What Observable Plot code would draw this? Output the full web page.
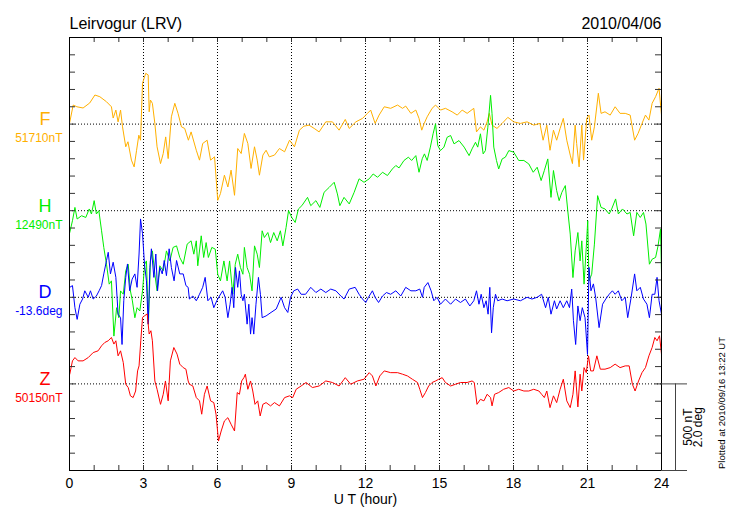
<!DOCTYPE html>
<html><head><meta charset="utf-8">
<script src="https://cdn.jsdelivr.net/npm/d3@7"></script>
<script src="https://cdn.jsdelivr.net/npm/@observablehq/plot@0.6"></script>
<style>html,body{margin:0;padding:0;background:#fff;}</style>
</head><body><div id="chart"></div>
<script>
// ---- chart values ----
const title = "Leirvogur (LRV)";
const dateText = "2010/04/06";
const plottedText = "Plotted at 2010/09/16 13:22 UT";
const components = ["F", "H", "D", "Z"];
const baseValues = [51710, 12490, -13.6, 50150];
const baseLabels = ["51710nT", "12490nT", "-13.6deg", "50150nT"];
const colors = ["#ffb000", "#00ee00", "#0000ff", "#ff0000"];
const xTickLabels = [0, 3, 6, 9, 12, 15, 18, 21, 24];
const scaleNT = 500;     // scale bar: 500 nT
const scaleDeg = 2.0;    // scale bar: 2.0 deg

// F (nT)
const fTime = [0,0.15,0.3,0.55,0.82,1.03,1.23,1.5,1.7,1.77,
1.88,1.97,2.07,2.15,2.28,2.37,2.51,2.62,2.72,2.81,
2.88,2.96,3.09,3.19,3.23,3.28,3.36,3.46,3.55,3.69,
3.8,3.9,4.0,4.13,4.27,4.4,4.54,4.67,4.82,4.93,
5.14,5.27,5.4,5.58,5.72,5.88,6.01,6.12,6.28,6.42,
6.55,6.69,6.82,6.96,7.09,7.23,7.36,7.5,7.61,7.7,
7.84,7.97,8.1,8.31,8.51,8.72,8.92,9.12,9.32,9.5,
9.71,9.92,10.12,10.39,10.66,10.93,11.18,11.34,11.61,11.88,
12.08,12.21,12.39,12.55,12.76,13.02,13.3,13.5,13.63,13.84,
14.04,14.17,14.28,14.38,14.5,14.7,14.84,15.04,15.24,15.51,
15.72,15.92,16.12,16.39,16.5,16.66,16.8,16.93,17.02,17.13,
17.33,17.54,17.77,18.01,18.28,18.55,18.82,19.07,19.2,19.35,
19.48,19.62,19.75,19.89,20.02,20.16,20.3,20.39,20.5,20.56,
20.66,20.77,20.84,20.97,21.06,21.17,21.28,21.44,21.55,21.71,
21.92,22.12,22.32,22.53,22.73,22.91,23.05,23.21,23.35,23.49,
23.62,23.76,23.9,24];
const fValue = [51714,51820,51810,51803,51832,51878,51868,51839,51810,51745,
51791,51723,51791,51694,51579,51608,51502,51463,51559,51646,
51617,51946,52003,51994,51781,51849,51830,51714,51579,51482,
51540,51636,51511,51752,51830,51772,51694,51685,51617,51665,
51559,51502,51598,51617,51502,51521,51270,51309,51415,51347,
51444,51299,51569,51540,51656,51598,51454,51579,51502,51415,
51531,51559,51521,51531,51569,51550,51617,51579,51675,51698,
51704,51685,51665,51723,51723,51675,51737,51685,51723,51743,
51772,51791,51714,51762,51810,51801,51820,51801,51814,51772,
51791,51743,51675,51714,51752,51801,51820,51791,51801,51781,
51762,51791,51772,51801,51665,51694,51675,51723,51772,51704,
51685,51714,51749,51723,51714,51723,51704,51714,51617,51704,
51559,51675,51617,51685,51743,51617,51531,51482,51704,51598,
51463,51704,51502,51743,51762,51617,51694,51888,51772,51781,
51762,51810,51772,51772,51762,51617,51656,51714,51762,51733,
51830,51868,51917,51762];

// H (nT)
const hTime = [0.01,0.12,0.22,0.31,0.49,0.66,0.8,0.89,1.0,1.09,
1.19,1.3,1.39,1.5,1.61,1.7,1.8,1.91,2.0,2.07,
2.18,2.28,2.38,2.47,2.55,2.65,2.74,2.85,2.96,3.05,
3.12,3.2,3.28,3.36,3.46,3.55,3.66,3.8,3.93,4.07,
4.2,4.34,4.47,4.61,4.77,4.93,5.04,5.14,5.2,5.34,
5.44,5.54,5.63,5.77,5.91,6.01,6.12,6.26,6.39,6.49,
6.62,6.72,6.82,6.93,7.03,7.09,7.2,7.3,7.4,7.5,
7.61,7.7,7.81,7.9,8.04,8.15,8.28,8.42,8.55,8.65,
8.78,8.88,9.01,9.15,9.28,9.42,9.65,9.78,9.99,10.15,
10.32,10.53,10.73,10.86,10.96,11.13,11.34,11.54,11.74,11.94,
12.15,12.31,12.49,12.69,12.89,13.09,13.23,13.36,13.56,13.74,
13.87,14.04,14.17,14.3,14.39,14.5,14.63,14.74,14.84,14.93,
15.04,15.18,15.31,15.45,15.59,15.79,16.0,16.2,16.32,16.46,
16.55,16.66,16.77,16.86,16.96,17.07,17.13,17.2,17.31,17.4,
17.54,17.67,17.81,18.01,18.21,18.42,18.62,18.8,18.96,19.12,
19.25,19.39,19.52,19.62,19.75,19.85,19.96,20.1,20.2,20.3,
20.41,20.5,20.61,20.7,20.77,20.86,20.95,21.01,21.06,21.17,
21.28,21.41,21.55,21.71,21.88,21.98,22.14,22.25,22.42,22.6,
22.73,22.87,23.0,23.14,23.27,23.37,23.51,23.62,23.76,23.86,
23.96,24.0];
const hValue = [12364,12432,12509,12442,12461,12451,12500,12471,12548,12471,
12490,12374,12278,12181,12066,12085,11766,11930,11872,12027,
12008,12143,12181,12027,11969,11872,11930,11911,12027,12181,
12200,11834,12200,12258,12123,12027,12172,12143,12258,12200,
12278,12287,12220,12181,12297,12316,12239,12316,12172,12345,
12220,12306,12220,12278,12268,12123,12085,12200,12085,12200,
12008,12181,12239,12162,12123,12278,12162,12123,12027,12287,
12239,12162,12374,12335,12364,12306,12364,12316,12374,12287,
12393,12490,12451,12422,12500,12519,12567,12519,12548,12509,
12596,12625,12654,12587,12519,12567,12529,12596,12674,12654,
12674,12702,12683,12712,12693,12731,12751,12737,12780,12799,
12780,12808,12712,12790,12818,12780,12857,12934,12992,12866,
12837,12857,12914,12924,12876,12895,12857,12808,12847,12885,
12857,12934,12818,12837,12972,13156,13050,12857,12780,12731,
12789,12799,12837,12828,12780,12780,12760,12712,12741,12664,
12722,12789,12567,12722,12606,12548,12596,12635,12490,12355,
12104,12258,12364,12200,12316,12066,12278,12432,12085,12123,
12297,12577,12509,12500,12471,12500,12558,12471,12500,12471,
12480,12345,12480,12451,12480,12413,12181,12210,12220,12287,
12384,12133];

// D (deg)
const dTime = [0.01,0.12,0.22,0.31,0.42,0.53,0.62,0.76,0.85,0.96,
1.09,1.2,1.3,1.39,1.5,1.57,1.66,1.77,1.88,1.97,
2.07,2.13,2.2,2.28,2.35,2.44,2.54,2.65,2.74,2.82,
2.88,2.96,3.04,3.12,3.19,3.26,3.32,3.42,3.5,3.57,
3.66,3.76,3.84,3.93,4.04,4.13,4.24,4.34,4.47,4.61,
4.72,4.81,4.86,5.0,5.14,5.27,5.4,5.5,5.61,5.74,
5.85,5.97,6.08,6.21,6.31,6.42,6.51,6.59,6.66,6.73,
6.82,6.89,6.96,7.03,7.09,7.2,7.27,7.34,7.4,7.47,
7.56,7.66,7.74,7.81,7.97,8.17,8.38,8.58,8.72,8.85,
8.96,9.09,9.25,9.39,9.57,9.78,9.99,10.19,10.39,10.59,
10.8,11.0,11.13,11.34,11.58,11.74,11.88,12.01,12.12,12.28,
12.39,12.53,12.69,12.85,13.02,13.23,13.43,13.63,13.84,14.04,
14.2,14.31,14.38,14.53,14.66,14.77,14.9,15.04,15.24,15.45,
15.65,15.85,16.05,16.23,16.39,16.5,16.6,16.69,16.8,16.89,
16.97,17.04,17.11,17.18,17.27,17.36,17.54,17.74,18.01,18.28,
18.55,18.75,18.96,19.14,19.3,19.41,19.52,19.66,19.75,19.89,
20.02,20.16,20.27,20.36,20.43,20.52,20.61,20.7,20.79,20.9,
21.0,21.06,21.14,21.24,21.33,21.47,21.61,21.74,21.88,22.01,
22.12,22.25,22.39,22.53,22.63,22.77,22.91,23.0,23.14,23.27,
23.41,23.51,23.62,23.73,23.82,23.9,24.0];
const dValue = [-13.37,-13.33,-13.84,-14.11,-13.76,-13.64,-13.45,-13.60,-13.45,-13.64,
-13.57,-13.45,-13.33,-13.06,-12.75,-12.56,-13.06,-12.79,-13.14,-13.99,
-14.07,-14.69,-13.68,-13.14,-12.83,-13.45,-13.18,-13.06,-13.37,-12.60,
-11.79,-12.13,-12.83,-13.22,-14.22,-12.91,-12.48,-13.14,-12.60,-13.45,
-12.91,-13.06,-12.75,-13.10,-12.48,-12.91,-13.22,-12.75,-13.06,-13.06,
-13.33,-13.37,-13.64,-13.57,-13.68,-13.53,-13.37,-13.14,-13.68,-13.60,
-13.84,-13.68,-13.57,-13.45,-13.60,-14.07,-13.76,-13.37,-13.84,-12.91,
-13.37,-12.99,-13.53,-13.68,-13.53,-14.22,-13.76,-14.45,-14.07,-14.45,
-13.76,-13.14,-13.53,-14.07,-14.03,-13.95,-13.87,-13.60,-13.84,-13.95,
-13.60,-13.45,-13.41,-13.53,-13.53,-13.37,-13.49,-13.41,-13.49,-13.41,
-13.45,-13.57,-13.64,-13.41,-13.37,-13.53,-13.64,-13.72,-13.60,-13.45,
-13.60,-13.72,-13.57,-13.49,-13.53,-13.45,-13.57,-13.37,-13.45,-13.45,
-13.41,-13.60,-13.37,-13.26,-13.45,-13.68,-13.60,-13.76,-13.64,-13.76,
-13.64,-13.72,-13.64,-13.80,-13.68,-13.45,-13.76,-13.53,-13.84,-13.68,
-13.99,-13.37,-14.42,-13.84,-13.53,-13.68,-13.64,-13.68,-13.64,-13.68,
-13.60,-13.64,-13.60,-13.53,-13.84,-13.60,-13.99,-13.68,-13.87,-13.68,
-13.84,-13.68,-13.84,-13.41,-14.14,-14.69,-13.80,-14.14,-13.84,-14.07,
-14.92,-12.91,-13.45,-13.29,-13.60,-14.30,-13.76,-13.64,-13.53,-13.45,
-13.53,-13.45,-13.68,-13.60,-14.07,-13.60,-13.06,-13.45,-13.37,-13.64,
-13.76,-14.07,-13.53,-13.53,-13.14,-13.68,-13.99];

// Z (nT)
const zTime = [0.01,0.12,0.22,0.35,0.55,0.76,0.96,1.16,1.3,1.43,
1.57,1.7,1.8,1.88,1.97,2.07,2.18,2.28,2.38,2.47,
2.58,2.68,2.76,2.82,2.89,2.96,3.05,3.15,3.23,3.3,
3.36,3.46,3.55,3.69,3.8,3.89,4.0,4.09,4.23,4.36,
4.47,4.61,4.72,4.81,4.86,5.0,5.14,5.27,5.36,5.47,
5.58,5.72,5.85,5.94,6.04,6.15,6.28,6.42,6.55,6.69,
6.8,6.89,6.98,7.07,7.13,7.23,7.34,7.43,7.52,7.63,
7.73,7.84,7.97,8.15,8.31,8.51,8.72,8.92,9.05,9.19,
9.39,9.59,9.85,10.12,10.39,10.66,10.93,11.18,11.4,11.67,
11.94,12.15,12.28,12.42,12.58,12.76,13.02,13.3,13.5,13.7,
13.9,14.11,14.2,14.31,14.43,14.56,14.7,14.84,14.97,15.11,
15.24,15.45,15.65,15.85,16.12,16.32,16.41,16.52,16.66,16.8,
16.93,17.07,17.13,17.23,17.4,17.6,17.81,18.01,18.21,18.42,
18.62,18.82,19.03,19.14,19.25,19.35,19.48,19.62,19.75,19.89,
20.02,20.16,20.3,20.41,20.5,20.61,20.7,20.77,20.86,20.95,
21.04,21.13,21.24,21.38,21.52,21.71,21.92,22.12,22.32,22.53,
22.69,22.82,22.93,23.07,23.21,23.35,23.49,23.62,23.73,23.82,
23.92,24.0];
const zValue = [50206,50283,50302,50283,50283,50302,50331,50341,50370,50389,
50399,50418,50380,50399,50312,50341,50273,50148,50129,50081,
50071,50109,50225,50254,50399,50534,50544,50554,50438,50457,
50399,50167,50119,50032,50090,50167,50052,50283,50360,50322,
50264,50244,50235,50167,50148,50138,50071,50052,49975,50090,
50138,50052,50042,49975,49820,49878,49936,49955,49917,49878,
50100,50090,50167,50186,50206,50119,50167,50109,50032,50052,
49965,50032,50042,50023,50042,50023,50071,50081,50071,50119,
50138,50158,50129,50138,50167,50158,50138,50186,50148,50167,
50177,50215,50196,50138,50196,50225,50215,50215,50206,50196,
50177,50158,50119,50071,50100,50138,50158,50167,50177,50186,
50158,50138,50148,50158,50158,50167,50158,50032,50061,50052,
50090,50071,50023,50090,50100,50119,50129,50109,50119,50109,
50109,50119,50109,50090,50071,50109,50013,50081,50042,50119,
50177,50052,50013,50090,50225,50017,50206,50109,50244,50215,
50312,50225,50225,50312,50235,50235,50244,50264,50244,50254,
50254,50148,50109,50167,50215,50244,50312,50360,50418,50399,
50428,50322];

// ---- layout ----
const W = 730, Hgt = 520, mL = 69, mR = 69, mT = 37, mB = 50;
const frameW = W - mL - mR, frameH = Hgt - mT - mB;
const nSlots = components.length + 1;            // 5 bands of 500 nT
const slots = components.map((c, i) => (components.length - i) * scaleNT);
const nTperDeg = scaleNT / scaleDeg;

const series = [
  {t: fTime, v: fValue}, {t: hTime, v: hValue},
  {t: dTime, v: dValue}, {t: zTime, v: zValue}
];
function rowsFor(i) {
  const s = series[i];
  const k = i === 2 ? nTperDeg : 1;
  const n = Math.min(s.t.length, s.v.length);
  return d3.range(n).map(j => ({t: s.t[j], y: slots[i] + (s.v[j] - baseValues[i]) * k}));
}
const meta = components.map((c, i) => ({c, label: baseLabels[i], color: colors[i], slot: slots[i]}));
const hourTicks = d3.range(1, 24);
const yTicks = d3.range(scaleNT / 5, nSlots * scaleNT, scaleNT / 5);
const font = "'Liberation Sans', Arial, Helvetica, sans-serif";
const barMid = frameH * (scaleNT / 2) / (nSlots * scaleNT);

const chart = Plot.plot({
  width: W, height: Hgt,
  marginLeft: mL, marginRight: mR, marginTop: mT, marginBottom: mB,
  x: {domain: [0, 24]},
  y: {domain: [0, nSlots * scaleNT], axis: null},
  color: {type: "identity"},
  style: {fontFamily: font, background: "white", color: "black", overflow: "visible"},
  marks: [
    Plot.gridX(xTickLabels.filter(d => d > 0 && d < 24), {stroke: "#000", strokeOpacity: 1, strokeDasharray: "1,2"}),
    Plot.ruleY(slots, {stroke: "#000", strokeDasharray: "1,2"}),
    ...series.map((s, i) => Plot.line(rowsFor(i), {x: "t", y: "y", stroke: colors[i], strokeWidth: 1})),
    // inward ticks
    Plot.tickX(hourTicks, {x: d => d, stroke: "#333", insetBottom: frameH - 5}),
    Plot.tickX(hourTicks, {x: d => d, stroke: "#333", insetTop: frameH - 5}),
    Plot.tickY(yTicks, {y: d => d, stroke: "#333", insetRight: frameW - 6}),
    Plot.tickY(yTicks, {y: d => d, stroke: "#333", insetLeft: frameW - 6}),
    Plot.frame({stroke: "#000"}),
    // scale bar
    Plot.ruleY([scaleNT, 0], {x1: 24, x2: 24, insetRight: -26, stroke: "#444"}),
    Plot.ruleX([24], {y1: 0, y2: scaleNT, dx: 14, stroke: "#444"}),
    Plot.text(["500 nT"], {frameAnchor: "bottom-right", textAnchor: "middle", lineAnchor: "middle", dy: -barMid, dx: 26.5, rotate: -90, fontSize: 12, fill: "#000"}),
    Plot.text(["2.0 deg"], {frameAnchor: "bottom-right", textAnchor: "middle", lineAnchor: "middle", dy: -barMid, dx: 36.5, rotate: -90, fontSize: 12, fill: "#000"}),
    Plot.text([plottedText], {frameAnchor: "bottom-right", textAnchor: "middle", lineAnchor: "middle", dy: -67.5, dx: 60.5, rotate: -90, fontSize: 9.5, fill: "#000"}),
    // component labels
    Plot.text(meta, {frameAnchor: "left", y: "slot", text: "c", fill: "color", dx: -24.5, dy: 1, textAnchor: "middle", lineAnchor: "bottom", fontSize: 18}),
    Plot.text(meta, {frameAnchor: "left", y: "slot", text: "label", fill: "color", dx: -7, dy: 18, textAnchor: "end", lineAnchor: "bottom", fontSize: 12}),
    // x axis labels
    Plot.axisX(xTickLabels, {anchor: "bottom", tickSize: 0, tickPadding: 8, fontSize: 14, label: null}),
    Plot.text(["U T (hour)"], {frameAnchor: "bottom", textAnchor: "middle", lineAnchor: "middle", dy: 29, fontSize: 14, fill: "#000"}),
    // titles
    Plot.text([title], {frameAnchor: "top-left", textAnchor: "start", lineAnchor: "bottom", dy: -8.5, fontSize: 16, fill: "#000"}),
    Plot.text([dateText], {frameAnchor: "top-right", textAnchor: "end", lineAnchor: "bottom", dy: -8.5, fontSize: 16, fill: "#000"})
  ]
});
document.getElementById("chart").appendChild(chart);
</script>
</body></html>
